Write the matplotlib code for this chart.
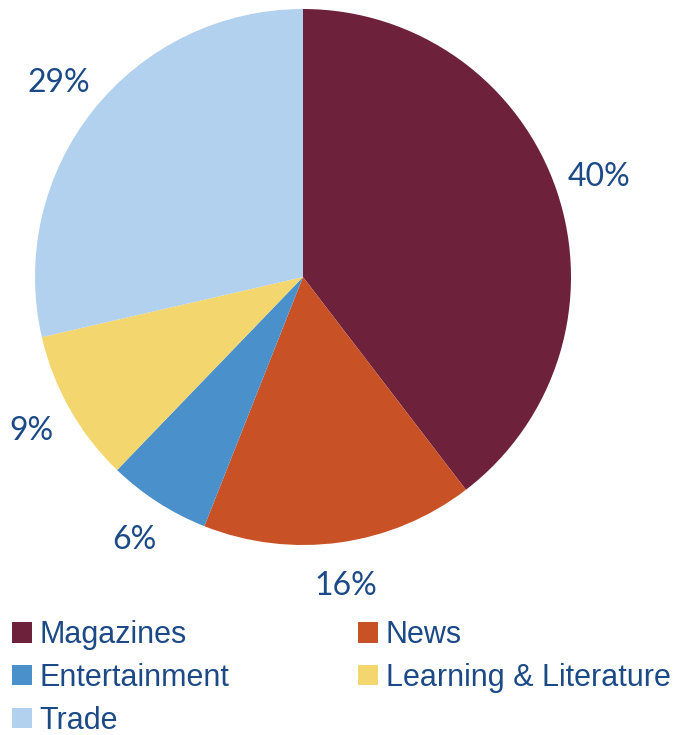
import matplotlib.pyplot as plt
from matplotlib.patches import Patch

categories = ['Magazines', 'News', 'Entertainment', 'Learning & Literature', 'Trade']
shares = [39.6, 16.4, 6.2, 9.2, 28.6]
colors = ['#6E213B', '#C85126', '#4A90CB', '#F4D66E', '#B2D1EE']
text_color = '#1B4A86'

fig = plt.figure(figsize=(6.92, 7.35), dpi=100)
ax = fig.add_axes([35 / 692, 190 / 735, 536 / 692, 536 / 735])

wedges, texts, autotexts = ax.pie(
    shares, colors=colors, startangle=90, counterclock=False,
    autopct='%.0f%%', pctdistance=1.165,
    wedgeprops=dict(linewidth=0),
    textprops=dict(color=text_color, fontsize=23, family='Lato'),
)
ax.set_xlim(-1, 1)
ax.set_ylim(-1, 1)
ax.set_aspect('equal')
ax.axis('off')

# legend fills column-first, so reorder to get row-wise layout
order = [0, 2, 4, 1, 3]
handles = [Patch(facecolor=colors[i], edgecolor='none') for i in order]
labels = [categories[i] for i in order]
fig.legend(handles, labels, ncol=2, loc='upper left',
           bbox_to_anchor=(12 / 692, 1 - 620 / 735), frameon=False,
           prop=dict(family='Liberation Sans', size=22),
           labelcolor=text_color, handlelength=0.66, handleheight=0.66,
           handletextpad=0.25, columnspacing=4.2, labelspacing=0.42,
           borderaxespad=0, borderpad=0)

fig.savefig('out.png', dpi=100)
